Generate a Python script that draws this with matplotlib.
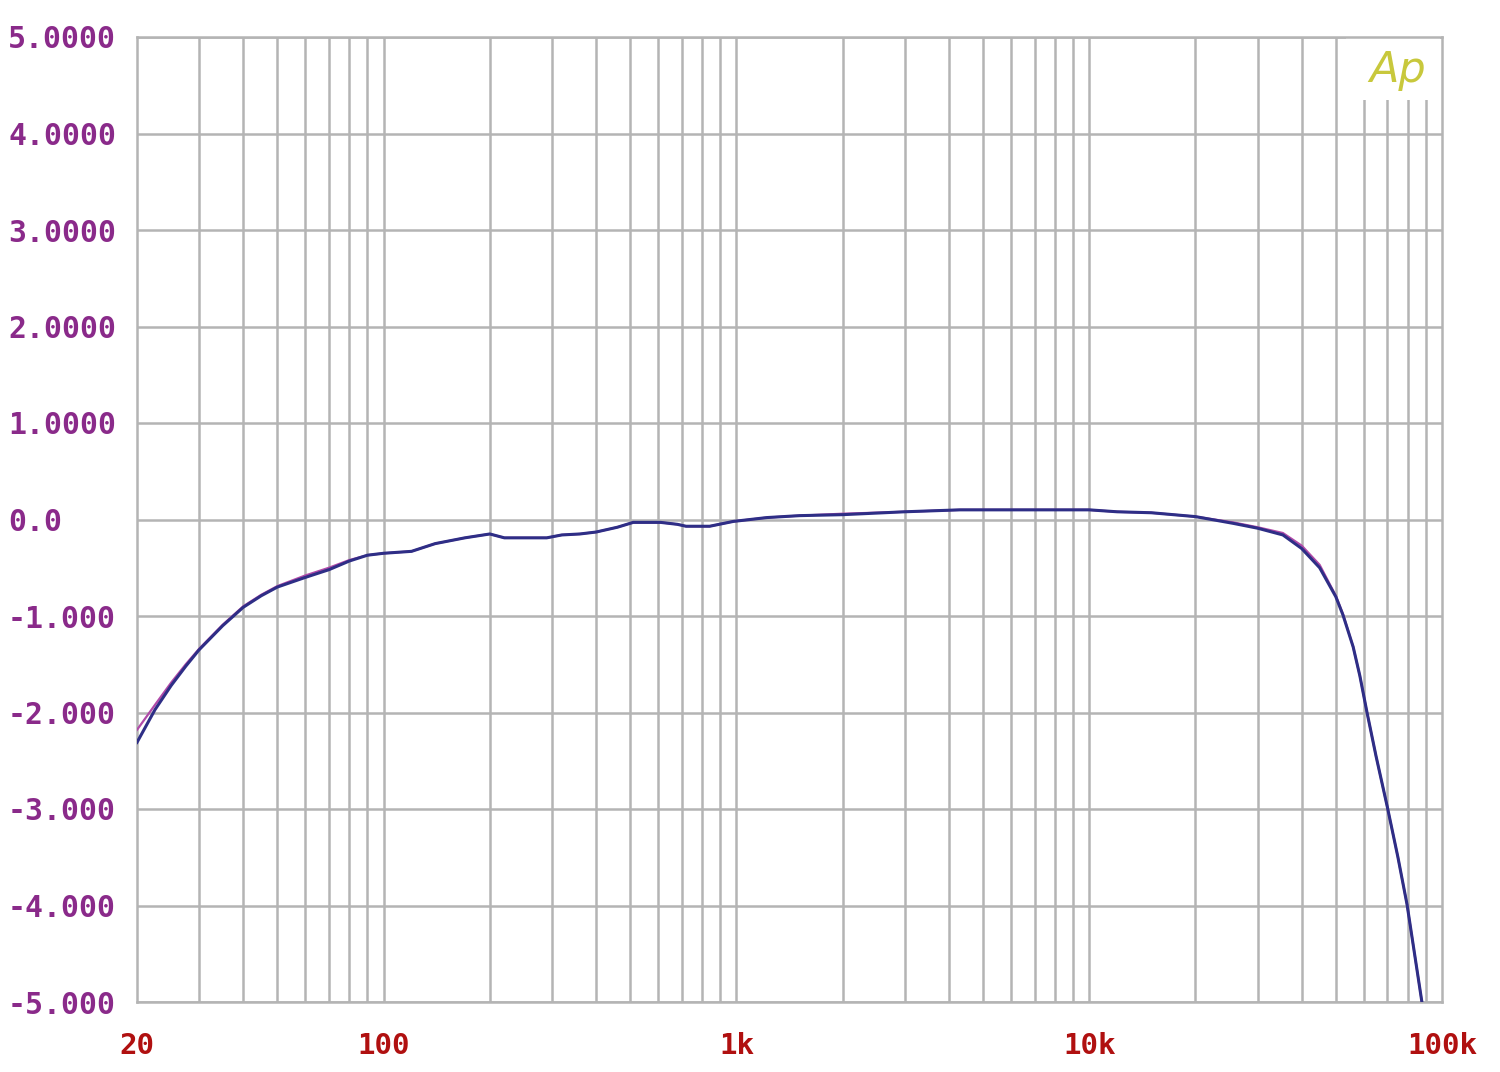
import matplotlib
matplotlib.use("Agg")
import matplotlib.pyplot as plt
from matplotlib.patches import Rectangle

# ---- data ----
freq_hz = [20, 22.5, 25, 27.5, 30, 35, 40, 45, 50, 60, 70, 80, 90, 100, 120, 140, 170, 200,
           220, 290, 320, 360, 400, 460, 510, 610, 680, 720, 840, 980, 1220, 1510,
           2000, 3000, 4300, 6000, 8000, 10000, 12000, 15000, 20000, 25600, 30000,
           35400, 40000, 45000, 50000, 52400, 56000, 58500, 61300, 65000, 70000, 75000,
           79600, 87700]

level_ch1 = [-2.31, -1.97, -1.72, -1.52, -1.35, -1.10, -0.91, -0.79, -0.70, -0.60, -0.52,
             -0.43, -0.37, -0.35, -0.33, -0.25, -0.19, -0.15, -0.19, -0.19, -0.16, -0.15,
             -0.13, -0.08, -0.03, -0.03, -0.05, -0.07, -0.07, -0.02, 0.02, 0.04,
             0.05, 0.08, 0.10, 0.10, 0.10, 0.10, 0.08, 0.07, 0.03, -0.04, -0.09,
             -0.16, -0.30, -0.50, -0.80, -0.99, -1.32, -1.62, -2.00, -2.45, -2.98, -3.50,
             -3.99, -5.00]

level_ch2 = [-2.18, -1.92, -1.69, -1.50, -1.34, -1.09, -0.90, -0.78, -0.69, -0.58, -0.50,
             -0.42, -0.37, -0.35, -0.33, -0.25, -0.19, -0.15, -0.19, -0.19, -0.16, -0.15,
             -0.13, -0.08, -0.03, -0.03, -0.05, -0.07, -0.07, -0.02, 0.02, 0.04,
             0.06, 0.08, 0.10, 0.10, 0.10, 0.10, 0.08, 0.07, 0.03, -0.03, -0.08,
             -0.14, -0.27, -0.47, -0.79, -0.98, -1.32, -1.62, -2.00, -2.45, -2.98, -3.50,
             -3.99, -5.00]

y_ticks = [5, 4, 3, 2, 1, 0, -1, -2, -3, -4, -5]
y_labels = ["5.0000", "4.0000", "3.0000", "2.0000", "1.0000", "0.0",
            "-1.000", "-2.000", "-3.000", "-4.000", "-5.000"]
x_ticks = [20, 100, 1000, 10000, 100000]
x_labels = ["20", "100", "1k", "10k", "100k"]
x_grid = [30, 40, 50, 60, 70, 80, 90, 100,
          200, 300, 400, 500, 600, 700, 800, 900, 1000,
          2000, 3000, 4000, 5000, 6000, 7000, 8000, 9000, 10000,
          20000, 30000, 40000, 50000, 60000, 70000, 80000, 90000]

# ---- figure ----
W, H = 1500, 1072
fig = plt.figure(figsize=(W / 100, H / 100), dpi=100)
fig.patch.set_facecolor("white")
ax = fig.add_axes([137 / W, 1 - 1002 / H, (1442 - 137) / W, (1002 - 37) / H])
ax.set_xscale("log")
ax.set_xlim(20, 100000)
ax.set_ylim(-5, 5)

grid_c = "#b4b4b4"
for xv in x_grid:
    ax.axvline(xv, color=grid_c, lw=1.8, zorder=1)
for yv in y_ticks:
    ax.axhline(yv, color=grid_c, lw=1.8, zorder=1)
for sp in ax.spines.values():
    sp.set_color(grid_c)
    sp.set_linewidth(1.8)

# white box behind the logo
ax.add_patch(Rectangle((1346 / W, 1 - 100 / H), (1440 - 1346) / W, (100 - 38) / H,
                       transform=fig.transFigure, facecolor="white",
                       edgecolor="none", zorder=2))
fig.text(1398 / W, 1 - 70 / H, "Ap", color="#c8c83c", fontsize=31,
         style="italic", family="DejaVu Sans", ha="center", va="center",
         fontweight="ultralight", zorder=5)

ax.plot(freq_hz, level_ch2, color="#b04aa8", lw=1.6, zorder=3)
ax.plot(freq_hz, level_ch1, color="#2e2e86", lw=2.2, zorder=4)

ax.minorticks_off()
ax.set_xticks(x_ticks)
ax.set_xticklabels(x_labels, family="DejaVu Sans Mono", fontsize=21,
                   fontweight="bold", color="#b01010")
ax.set_yticks(y_ticks)
ax.set_yticklabels(y_labels, family="DejaVu Sans Mono", fontsize=21.5,
                   fontweight="bold", color="#8a2a8a", ha="left")
ax.tick_params(axis="y", length=0, pad=(137 - 8) * 0.72)
ax.tick_params(axis="x", length=0, pad=30 * 0.72)

fig.savefig("out.png", dpi=100, facecolor="white")
